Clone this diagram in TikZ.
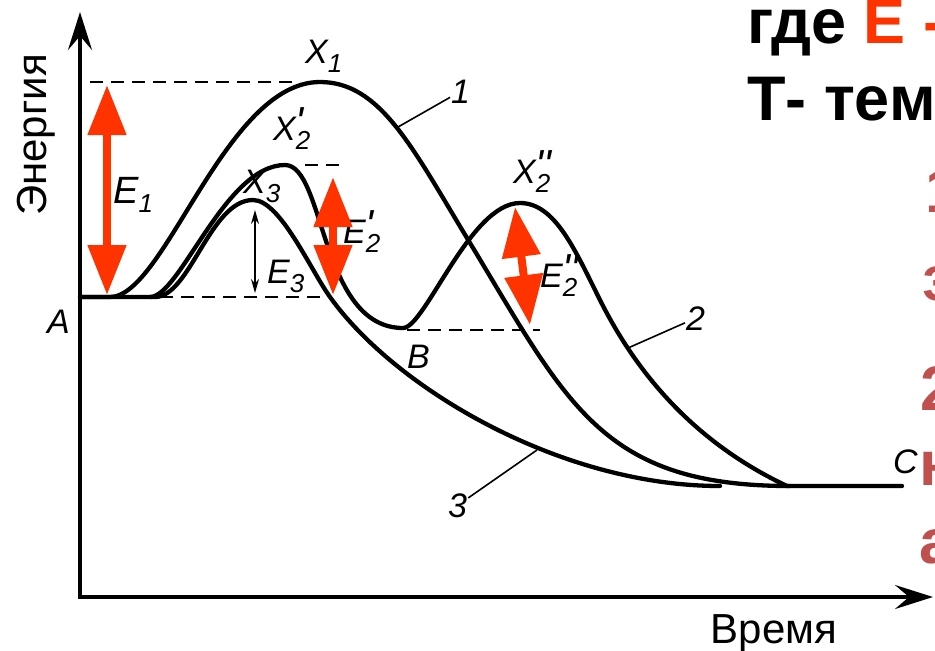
\documentclass[tikz,border=0pt]{standalone}
\usepackage{fontspec}
\setmainfont{Liberation Sans}
\usepackage{tikz}
\usetikzlibrary{arrows.meta}
\usepackage{xcolor}
\definecolor{arrowred}{RGB}{255,51,0}
\definecolor{slidered}{RGB}{192,80,77}
% index with optional prime above
\newcommand{\ix}[2][]{\rlap{\raisebox{4pt}{\fontsize{42}{42}\selectfont#1}}\raisebox{-9pt}{\fontsize{26}{26}\selectfont#2}}
\newcommand{\pr}{\textquotesingle}

\begin{document}
\begin{tikzpicture}[x=1pt, y=-1pt,
    curve/.style={line width=4.3pt, line cap=round},
    guide/.style={line width=2.2pt, dash pattern=on 13pt off 8pt},
    leader/.style={line width=1.6pt},
    axis/.style={line width=3.5pt, {Stealth[length=38pt,width=24pt,inset=14pt]}-{Stealth[length=38pt,width=24pt,inset=14pt]}},
    lbl/.style={anchor=base west, inner sep=0pt, font=\fontsize{34}{34}\selectfont\itshape},
    barrier/.style={arrowred, line width=8pt, {Triangle[length=50pt,width=37pt]}-{Triangle[length=50pt,width=37pt]}},
    slide/.style={anchor=base west, inner sep=0pt, font=\fontsize{63}{63}\selectfont\bfseries}]
    \useasboundingbox (0,0) rectangle (935,651);
    \clip (0,0) rectangle (935,651);

    % axes
    \draw[axis] (80,12) -- (80,597) -- (933,597);
    \node[font=\fontsize{42}{42}\selectfont, rotate=90, anchor=base] (ylab) at (46,135) {Энергия};
    \node[font=\fontsize{42}{42}\selectfont, anchor=base] (xlab) at (774,643) {Время};

    % level lines
    \draw[guide] (90,82) -- (300,82);
    \draw[guide] (160,297) -- (328,297);
    \draw[guide] (305,165) -- (342,165);
    \draw[guide] (407,330) -- (540,330);

    % reaction paths
    \draw[curve] (80,297) -- (110,297) .. controls (165,297) and (225,82) .. (320,82)
        .. controls (380,82) and (412,147) .. (467,238)
        .. controls (567,403) and (600,486) .. (790,486);
    \draw[curve] (150,297) .. controls (180,297) and (225,165) .. (285,165)
        .. controls (325,165) and (320,328) .. (403,328)
        .. controls (425,328) and (470,203) .. (520,203)
        .. controls (555,203) and (575,250) .. (600,300)
        .. controls (640,380) and (700,445) .. (787,486) -- (902,486);
    \draw[curve] (80,297) -- (155,297) .. controls (190,297) and (210,200) .. (253,200)
        .. controls (280,200) and (310,269) .. (330,297)
        .. controls (395,388) and (560,486) .. (720,486);

    % points on the paths for the leaders
    \coordinate (onone) at (398,127);
    \coordinate (ontwo) at (628,348);
    \coordinate (onthree) at (537,450);

    % labels
    \node[lbl] (xone) at (305,63) {X\ix{1}};
    \node[lbl] (xtwoa) at (273,140) {X\ix[\pr]{2}};
    \node[lbl] (xthree) at (243,193) {X\ix{3}};
    \node[lbl] (xtwob) at (513,183) {X\ix[\pr\pr]{2}};
    \node[lbl, font=\fontsize{38}{38}\selectfont\itshape] (eone) at (113,203) {E\ix{1}};
    \node[lbl] (etwoa) at (343,243) {E\ix[\pr]{2}};
    \node[lbl] (ethree) at (267,283) {E\ix{3}};
    \node[lbl] (etwob) at (540,287) {E\ix[\pr\pr]{2}};
    \node[lbl] (pa) at (47,333) {A};
    \node[lbl] (pb) at (407,368) {B};
    \node[lbl] (pc) at (893,473) {C};
    \node[lbl, inner sep=1pt] (labone) at (450,103) {1};
    \node[lbl, inner sep=1pt] (labtwo) at (685,330) {2};
    \node[lbl, inner sep=1pt] (labthree) at (447,517) {3};
    \draw[leader] (onone) -- (labone);
    \draw[leader] (ontwo) -- (labtwo);
    \draw[leader] (onthree) -- (labthree);

    % activation energies
    \draw[line width=1.6pt, {Stealth[length=14pt,width=8pt]}-{Stealth[length=14pt,width=8pt]}] (255,210) -- (255,293);
    \draw[barrier] (107,85) -- (107,295);
    \draw[barrier] (333,177) -- (333,295);
    \draw[barrier] (515,207) -- (530,325);

    % slide text, cut by the edge
    \node[slide] (where) at (747,43) {где \textcolor{arrowred}{Е -}};
    \node[slide] (temp) at (747,120) {Т- тем};
    \node[slide, slidered] (rone) at (925,212) {1};
    \node[slide, slidered] (rtwo) at (922,300) {з};
    \node[slide, slidered] (rthree) at (920,410) {2};
    \node[slide, slidered] (rfour) at (919,485) {н};
    \node[slide, slidered] (rfive) at (919,563) {а};
\end{tikzpicture}
\end{document}
